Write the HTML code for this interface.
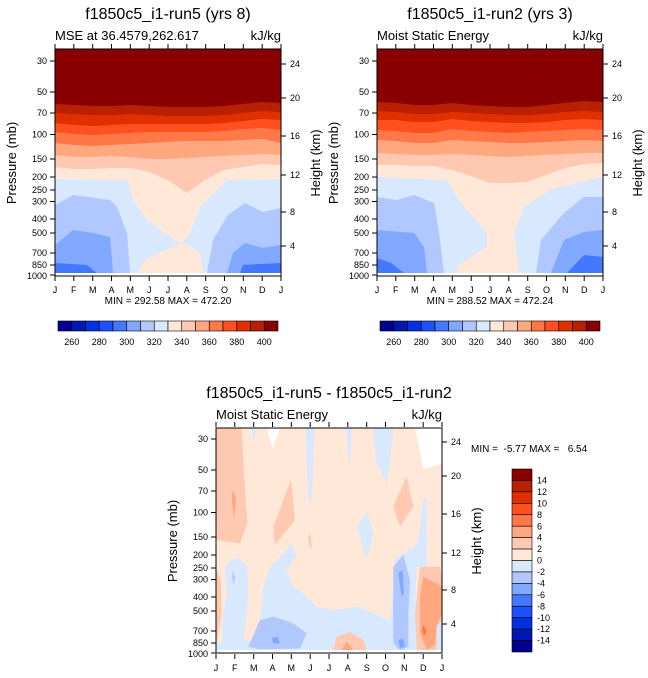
<!DOCTYPE html>
<html><head><meta charset="utf-8"><style>
html,body{margin:0;padding:0;background:#fff;}
svg{display:block;font-family:"Liberation Sans",sans-serif;}
</style></head><body>
<svg width="648" height="678" viewBox="0 0 648 678" xmlns="http://www.w3.org/2000/svg">
<defs>
<g id="ticksY">
 <g stroke="#000" stroke-width="1">
  <line x1="-5" x2="0" y1="61" y2="61"/><line x1="-5" x2="0" y1="92" y2="92"/><line x1="-5" x2="0" y1="113" y2="113"/>
  <line x1="-5" x2="0" y1="134.5" y2="134.5"/><line x1="-5" x2="0" y1="159" y2="159"/><line x1="-5" x2="0" y1="177" y2="177"/>
  <line x1="-5" x2="0" y1="190" y2="190"/><line x1="-5" x2="0" y1="201.5" y2="201.5"/><line x1="-5" x2="0" y1="219" y2="219"/>
  <line x1="-5" x2="0" y1="233" y2="233"/><line x1="-5" x2="0" y1="253" y2="253"/><line x1="-5" x2="0" y1="265" y2="265"/>
  <line x1="-5" x2="0" y1="275" y2="275"/>
  <line x1="226" x2="231" y1="64" y2="64"/><line x1="226" x2="231" y1="98" y2="98"/><line x1="226" x2="231" y1="136" y2="136"/>
  <line x1="226" x2="231" y1="175" y2="175"/><line x1="226" x2="231" y1="212" y2="212"/><line x1="226" x2="231" y1="246" y2="246"/>
 </g>
 <g font-size="9" text-anchor="end">
  <text x="-8" y="64">30</text><text x="-8" y="95">50</text><text x="-8" y="116">70</text><text x="-8" y="137.5">100</text>
  <text x="-8" y="162">150</text><text x="-8" y="180">200</text><text x="-8" y="193">250</text><text x="-8" y="204.5">300</text>
  <text x="-8" y="222">400</text><text x="-8" y="236">500</text><text x="-8" y="256">700</text><text x="-8" y="268">850</text><text x="-8" y="279">1000</text>
 </g>
 <g font-size="9">
  <text x="235" y="67">24</text><text x="235" y="101">20</text><text x="235" y="139">16</text><text x="235" y="178">12</text><text x="235" y="215">8</text><text x="235" y="249">4</text>
 </g>
 <g stroke="#000" stroke-width="1">
  <line x1="0" x2="0" y1="44" y2="49"/><line x1="18.8" x2="18.8" y1="44" y2="49"/><line x1="37.7" x2="37.7" y1="44" y2="49"/><line x1="56.5" x2="56.5" y1="44" y2="49"/><line x1="75.3" x2="75.3" y1="44" y2="49"/><line x1="94.2" x2="94.2" y1="44" y2="49"/><line x1="113" x2="113" y1="44" y2="49"/><line x1="131.8" x2="131.8" y1="44" y2="49"/><line x1="150.7" x2="150.7" y1="44" y2="49"/><line x1="169.5" x2="169.5" y1="44" y2="49"/><line x1="188.3" x2="188.3" y1="44" y2="49"/><line x1="207.2" x2="207.2" y1="44" y2="49"/><line x1="226" x2="226" y1="44" y2="49"/>
  <line x1="0" x2="0" y1="276" y2="281"/><line x1="18.8" x2="18.8" y1="276" y2="281"/><line x1="37.7" x2="37.7" y1="276" y2="281"/><line x1="56.5" x2="56.5" y1="276" y2="281"/><line x1="75.3" x2="75.3" y1="276" y2="281"/><line x1="94.2" x2="94.2" y1="276" y2="281"/><line x1="113" x2="113" y1="276" y2="281"/><line x1="131.8" x2="131.8" y1="276" y2="281"/><line x1="150.7" x2="150.7" y1="276" y2="281"/><line x1="169.5" x2="169.5" y1="276" y2="281"/><line x1="188.3" x2="188.3" y1="276" y2="281"/><line x1="207.2" x2="207.2" y1="276" y2="281"/><line x1="226" x2="226" y1="276" y2="281"/>
 </g>
 <g font-size="9" text-anchor="middle">
  <text x="0" y="293">J</text><text x="18.8" y="293">F</text><text x="37.7" y="293">M</text><text x="56.5" y="293">A</text><text x="75.3" y="293">M</text><text x="94.2" y="293">J</text><text x="113" y="293">J</text><text x="131.8" y="293">A</text><text x="150.7" y="293">S</text><text x="169.5" y="293">O</text><text x="188.3" y="293">N</text><text x="207.2" y="293">D</text><text x="226" y="293">J</text>
 </g>
</g>
</defs>

<!-- ===== Top-left panel ===== -->
<rect x="55" y="49" width="226" height="227" fill="#D8E8FF"/>
<polygon fill="#FFE8D8" points="55,150 281,150 281,179 227,180 200,207 190,233 182,243 190,246 200,253 203,273 138,273 140,267 150,257 180,244 147,220 133,200 127,180 55,179"/>
<polygon fill="#FFC8B0" points="55,49 281,49 281,165 262,164 243,167 224,170 205,180 187,193 168,180 149,172 130,168 111,168 93,169 74,169 55,167"/>
<polygon fill="#FFA880" points="55,49 281,49 281,155 262,154 243,155 224,156 205,157 187,158 168,159 149,159 130,157 111,156 93,157 74,157 55,155"/>
<polygon fill="#FF7848" points="55,49 281,49 281,143 262,139 243,140 224,141 205,141 187,141 168,142 149,143 130,144 111,145 93,146 74,145 55,143"/>
<polygon fill="#FF5020" points="55,49 281,49 281,130 262,128 243,129 224,131 205,132 187,132 168,132 149,132 130,133 111,134 93,135 74,134 55,132"/>
<polygon fill="#E03000" points="55,49 281,49 281,120 262,119 243,121 224,123 205,124 187,124 168,124 149,124 130,124 111,125 93,126 74,125 55,123"/>
<polygon fill="#B82000" points="55,49 281,49 281,112 262,111 243,113 224,115 205,116 187,116 168,116 149,115 130,114 111,115 93,115 74,114 55,113"/>
<polygon fill="#880000" points="55,49 281,49 281,103 262,102 243,104 224,106 205,107 187,107 168,107 149,106 130,105 111,106 93,106 74,105 55,104"/>
<polygon fill="#B0C8FF" points="55,205 73,195 110,200 117,207 127,233 130,273 55,273"/>
<polygon fill="#B0C8FF" points="281,208 263,212 245,203 228,215 213,240 207,273 281,273"/>
<polygon fill="#80A8FF" points="55,245 73,230 93,233 110,237 113,273 55,273"/>
<polygon fill="#80A8FF" points="281,245 263,248 245,243 233,253 227,273 281,273"/>
<polygon fill="#4478FF" points="55,263 87,265 97,273 55,273"/>
<polygon fill="#4478FF" points="281,263 243,265 240,273 281,273"/>
<rect x="55" y="273" width="226" height="3" fill="#fff"/>
<rect x="55" y="49" width="226" height="227" fill="none" stroke="#000" stroke-width="1"/>
<g transform="translate(55,0)"><use href="#ticksY"/></g>
<text x="168" y="19" font-size="16" text-anchor="middle">f1850c5_i1-run5 (yrs 8)</text>
<text x="55" y="40" font-size="13">MSE at 36.4579,262.617</text>
<text x="281" y="40" font-size="13" text-anchor="end">kJ/kg</text>
<text x="168" y="304" font-size="10" text-anchor="middle">MIN = 292.58 MAX = 472.20</text>
<text transform="translate(16,163) rotate(-90)" font-size="13" text-anchor="middle">Pressure (mb)</text>
<text transform="translate(320,163) rotate(-90)" font-size="13" text-anchor="middle">Height (km)</text>

<!-- ===== Top-right panel ===== -->
<rect x="377" y="49" width="226" height="227" fill="#D8E8FF"/>
<polygon fill="#FFE8D8" points="377,150 603,150 603,177 551,189 524,207 514,233 516,247 519,273 457,273 457,267 471,257 487,247 487,233 461,203 447,180 377,177"/>
<polygon fill="#FFC8B0" points="377,49 603,49 603,163 584,164 565,168 546,175 527,182 509,183 490,183 471,176 452,170 433,166 415,166 396,165 377,165"/>
<polygon fill="#FFA880" points="377,49 603,49 603,153 584,153 565,154 546,155 527,156 509,157 490,156 471,155 452,154 433,155 415,155 396,154 377,153"/>
<polygon fill="#FF7848" points="377,49 603,49 603,141 584,140 565,141 546,142 527,143 509,143 490,142 471,141 452,140 433,143 415,143 396,141 377,140"/>
<polygon fill="#FF5020" points="377,49 603,49 603,130 584,129 565,130 546,131 527,132 509,133 490,132 471,131 452,129 433,133 415,133 396,131 377,130"/>
<polygon fill="#E03000" points="377,49 603,49 603,120 584,119 565,120 546,122 527,123 509,123 490,122 471,121 452,119 433,122 415,122 396,120 377,120"/>
<polygon fill="#B82000" points="377,49 603,49 603,112 584,111 565,112 546,114 527,115 509,115 490,114 471,113 452,112 433,114 415,114 396,112 377,111"/>
<polygon fill="#880000" points="377,49 603,49 603,102 584,101 565,103 546,105 527,107 509,107 490,106 471,105 452,103 433,105 415,105 396,103 377,102"/>
<polygon fill="#B0C8FF" points="377,197 397,200 414,195 434,203 439,233 444,273 377,273"/>
<polygon fill="#B0C8FF" points="603,197 584,197 564,213 541,240 536,273 603,273"/>
<polygon fill="#80A8FF" points="377,230 414,233 424,247 427,273 377,273"/>
<polygon fill="#80A8FF" points="603,230 584,232 564,240 551,273 603,273"/>
<polygon fill="#4478FF" points="377,258 391,263 404,273 377,273"/>
<polygon fill="#4478FF" points="603,257 584,255 567,273 603,273"/>
<rect x="377" y="273" width="226" height="3" fill="#fff"/>
<rect x="377" y="49" width="226" height="227" fill="none" stroke="#000" stroke-width="1"/>
<g transform="translate(377,0)"><use href="#ticksY"/></g>
<text x="490" y="19" font-size="16" text-anchor="middle">f1850c5_i1-run2 (yrs 3)</text>
<text x="377" y="40" font-size="13">Moist Static Energy</text>
<text x="603" y="40" font-size="13" text-anchor="end">kJ/kg</text>
<text x="490" y="304" font-size="10" text-anchor="middle">MIN = 288.52 MAX = 472.24</text>
<text transform="translate(338,163) rotate(-90)" font-size="13" text-anchor="middle">Pressure (mb)</text>
<text transform="translate(642,163) rotate(-90)" font-size="13" text-anchor="middle">Height (km)</text>

<!-- horizontal colorbars -->
<g id="hcb" stroke="#000" stroke-width="0.6">
 <rect x="58" y="321" width="13.75" height="10" fill="#000090"/>
 <rect x="71.75" y="321" width="13.75" height="10" fill="#0018B0"/>
 <rect x="85.5" y="321" width="13.75" height="10" fill="#0030E0"/>
 <rect x="99.25" y="321" width="13.75" height="10" fill="#1E50FF"/>
 <rect x="113" y="321" width="13.75" height="10" fill="#4478FF"/>
 <rect x="126.75" y="321" width="13.75" height="10" fill="#80A8FF"/>
 <rect x="140.5" y="321" width="13.75" height="10" fill="#B0C8FF"/>
 <rect x="154.25" y="321" width="13.75" height="10" fill="#D8E8FF"/>
 <rect x="168" y="321" width="13.75" height="10" fill="#FFE8D8"/>
 <rect x="181.75" y="321" width="13.75" height="10" fill="#FFC8B0"/>
 <rect x="195.5" y="321" width="13.75" height="10" fill="#FFA880"/>
 <rect x="209.25" y="321" width="13.75" height="10" fill="#FF7848"/>
 <rect x="223" y="321" width="13.75" height="10" fill="#FF5020"/>
 <rect x="236.75" y="321" width="13.75" height="10" fill="#E03000"/>
 <rect x="250.5" y="321" width="13.75" height="10" fill="#B82000"/>
 <rect x="264.25" y="321" width="13.75" height="10" fill="#880000"/>
</g>
<g font-size="9" text-anchor="middle">
 <text x="71.75" y="345">260</text><text x="99.25" y="345">280</text><text x="126.75" y="345">300</text><text x="154.25" y="345">320</text><text x="181.75" y="345">340</text><text x="209.25" y="345">360</text><text x="236.75" y="345">380</text><text x="264.25" y="345">400</text>
</g>
<g transform="translate(322,0)"><use href="#hcb"/></g>
<g font-size="9" text-anchor="middle" transform="translate(322,0)">
 <text x="71.75" y="345">260</text><text x="99.25" y="345">280</text><text x="126.75" y="345">300</text><text x="154.25" y="345">320</text><text x="181.75" y="345">340</text><text x="209.25" y="345">360</text><text x="236.75" y="345">380</text><text x="264.25" y="345">400</text>
</g>

<!-- ===== Bottom panel ===== -->
<rect x="216" y="428" width="226" height="225" fill="#FFE8D8"/>
<g transform="translate(160,380) scale(0.33333)">
 <polygon fill="#FFC8B0" points="168,143 245,143 250,250 262,430 240,490 170,480"/>
 <polygon fill="#FFA880" points="215,330 228,350 222,420 216,360"/>
 <polygon fill="#FFC8B0" points="168,570 182,600 185,700 170,790"/>
 <polygon fill="#FFC8B0" points="340,440 393,300 405,420 345,495"/>
 <polygon fill="#FFC8B0" points="445,470 452,462 455,505 448,500"/>
 <polygon fill="#FFC8B0" points="700,380 740,290 760,380 720,440"/>
 <polygon fill="#fff" points="320,143 360,143 338,205"/>
 <polygon fill="#fff" points="765,143 846,143 846,250 790,268"/>
 <polygon fill="#D8E8FF" points="275,143 287,143 282,195"/>
 <polygon fill="#D8E8FF" points="436,143 464,143 456,340 450,385 442,300"/>
 <polygon fill="#D8E8FF" points="558,143 576,143 568,270"/>
 <polygon fill="#D8E8FF" points="638,143 700,143 690,250 680,310 650,250"/>
 <polygon fill="#D8E8FF" points="590,440 620,395 640,460 620,540"/>
 <polygon fill="#D8E8FF" points="168,810 168,790 185,790 190,700 200,640 195,560 215,540 240,535 262,560 265,640 260,700 250,775 285,790 300,720 310,620 330,560 370,520 395,490 410,530 380,570 400,620 430,640 470,680 520,690 600,680 640,700 690,720 700,620 705,540 730,520 760,505 775,480 790,360 800,350 800,560 770,560 765,700 770,810"/>
 <polygon fill="#D8E8FF" points="830,740 846,720 846,810 830,810"/>
 <polygon fill="#B0C8FF" points="265,800 300,720 340,710 400,730 440,760 420,805 300,808"/>
 <polygon fill="#B0C8FF" points="700,560 730,525 750,600 745,700 745,800 720,812 700,790 700,700"/>
 <polygon fill="#B0C8FF" points="218,570 225,590 222,615 217,600"/>
 <polygon fill="#80A8FF" points="335,775 352,770 360,790 340,790"/>
 <polygon fill="#80A8FF" points="715,580 728,570 732,640 725,650"/>
 <polygon fill="#80A8FF" points="715,780 730,775 735,800 720,805"/>
 <polygon fill="#FFC8B0" points="520,810 530,770 570,755 610,780 620,810"/>
 <polygon fill="#FFA880" points="545,810 560,785 580,810"/>
 <polygon fill="#FFC8B0" points="780,560 840,560 846,600 846,720 830,740 830,810 770,810 765,700"/>
 <polygon fill="#FFA880" points="790,590 846,620 846,700 830,740 825,795 800,810 780,760 780,650"/>
 <polygon fill="#FF7848" points="790,735 800,755 792,770 786,750"/>
 <rect x="168" y="810" width="678" height="10" fill="#fff"/>
</g>
<rect x="216" y="428" width="226" height="225" fill="none" stroke="#000" stroke-width="1"/>
<g transform="translate(216,378)"><use href="#ticksY"/></g>
<text x="329" y="398" font-size="16" text-anchor="middle">f1850c5_i1-run5 - f1850c5_i1-run2</text>
<text x="216" y="419" font-size="13">Moist Static Energy</text>
<text x="442" y="419" font-size="13" text-anchor="end">kJ/kg</text>
<text x="471" y="452" font-size="10">MIN =&#160; -5.77 MAX =&#160;&#160; 6.54</text>
<text transform="translate(177,541) rotate(-90)" font-size="13" text-anchor="middle">Pressure (mb)</text>
<text transform="translate(481,541) rotate(-90)" font-size="13" text-anchor="middle">Height (km)</text>

<!-- vertical colorbar -->
<g stroke="#000" stroke-width="0.6">
 <rect x="512" y="469" width="20" height="11.44" fill="#880000"/>
 <rect x="512" y="480.44" width="20" height="11.44" fill="#B82000"/>
 <rect x="512" y="491.88" width="20" height="11.44" fill="#E03000"/>
 <rect x="512" y="503.31" width="20" height="11.44" fill="#FF5020"/>
 <rect x="512" y="514.75" width="20" height="11.44" fill="#FF7848"/>
 <rect x="512" y="526.19" width="20" height="11.44" fill="#FFA880"/>
 <rect x="512" y="537.63" width="20" height="11.44" fill="#FFC8B0"/>
 <rect x="512" y="549.06" width="20" height="11.44" fill="#FFE8D8"/>
 <rect x="512" y="560.5" width="20" height="11.44" fill="#D8E8FF"/>
 <rect x="512" y="571.94" width="20" height="11.44" fill="#B0C8FF"/>
 <rect x="512" y="583.38" width="20" height="11.44" fill="#80A8FF"/>
 <rect x="512" y="594.81" width="20" height="11.44" fill="#4478FF"/>
 <rect x="512" y="606.25" width="20" height="11.44" fill="#1E50FF"/>
 <rect x="512" y="617.69" width="20" height="11.44" fill="#0030E0"/>
 <rect x="512" y="629.13" width="20" height="11.44" fill="#0018B0"/>
 <rect x="512" y="640.56" width="20" height="11.44" fill="#000090"/>
</g>
<g font-size="9">
 <text x="537" y="483.5">14</text><text x="537" y="495">12</text><text x="537" y="506.4">10</text><text x="537" y="517.8">8</text><text x="537" y="529.3">6</text><text x="537" y="540.7">4</text><text x="537" y="552.2">2</text><text x="537" y="563.6">0</text><text x="537" y="575">-2</text><text x="537" y="586.5">-4</text><text x="537" y="597.9">-6</text><text x="537" y="609.4">-8</text><text x="537" y="620.8">-10</text><text x="537" y="632.2">-12</text><text x="537" y="643.7">-14</text>
</g>
</svg>
</body></html>
